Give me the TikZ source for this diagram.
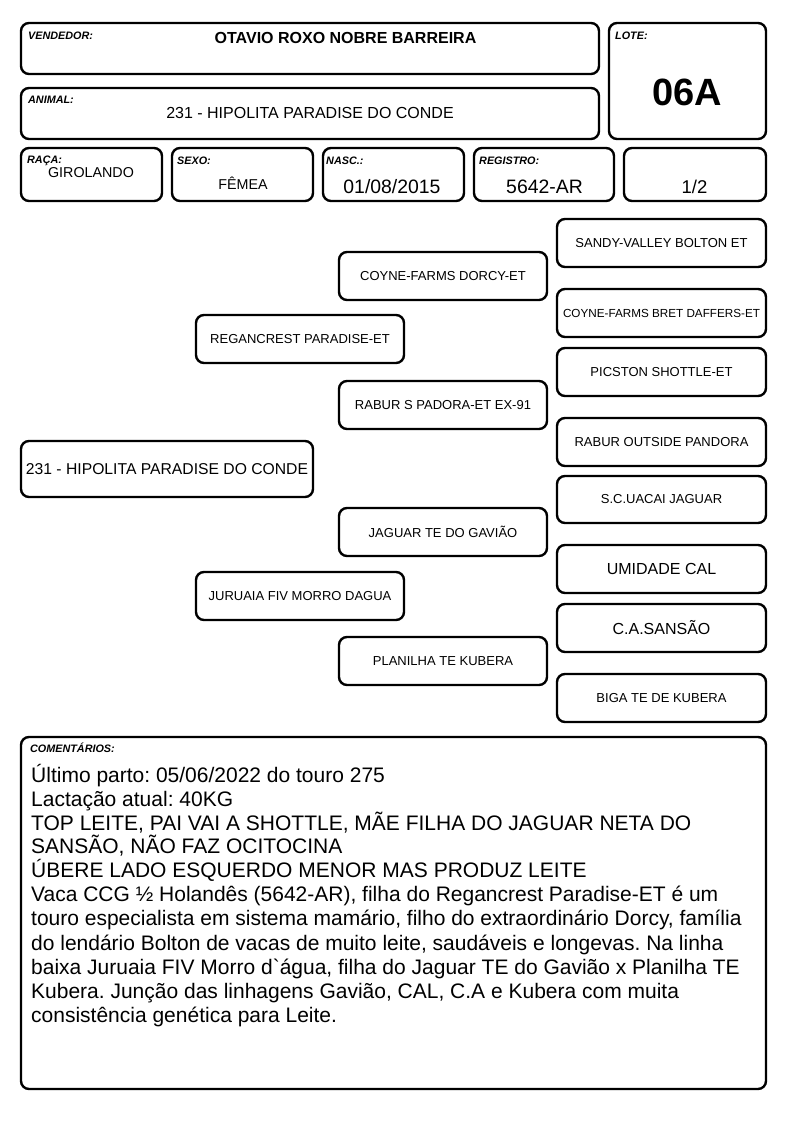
\documentclass[tikz,border=0pt]{standalone}
\usepackage{fontspec}
\setmainfont{Liberation Sans}
\newfontfamily\gravefont{Liberation Sans}
\frenchspacing
\begin{document}
\begin{tikzpicture}[x=1pt,y=-1pt,
  box/.style={draw, line width=2.4pt, rounded corners=8pt, inner sep=0pt, align=center},
  ped/.style={box, minimum width=208pt, minimum height=48pt, font=\fontsize{13}{15}\selectfont},
  lbl/.style={anchor=base west, inner sep=0pt, font=\fontsize{10.8}{12}\selectfont\bfseries\itshape},
  val/.style={anchor=base, inner sep=0pt},
  cline/.style={anchor=base west, inner sep=0pt, font=\fontsize{21}{24}\selectfont}]
\useasboundingbox (0,0) rectangle (794,1123);
% header boxes
\node[box, minimum width=578pt, minimum height=51pt] (vend) at (310,48.5) {};
\node[box, minimum width=157pt, minimum height=116pt] (lote) at (687.5,81) {};
\node[box, minimum width=578pt, minimum height=51pt] (anim) at (310,113.5) {};
\node[box, minimum width=141pt, minimum height=53pt] (raca) at (91.5,174.5) {};
\node[box, minimum width=141pt, minimum height=53pt] (sexo) at (242.5,174.5) {};
\node[box, minimum width=141pt, minimum height=53pt] (nasc) at (393.5,174.5) {};
\node[box, minimum width=140pt, minimum height=53pt] (regi) at (544,174.5) {};
\node[box, minimum width=142pt, minimum height=53pt] (pagi) at (695,174.5) {};
% labels
\node[lbl] (lvend) at (28,39.5) {VENDEDOR:};
\node[val, font=\fontsize{16}{18}\selectfont\bfseries] (tvend) at (345.5,44) {OTAVIO ROXO NOBRE BARREIRA};
\node[lbl] (llote) at (615,39.5) {LOTE:};
\node[val, font=\fontsize{38}{40}\selectfont\bfseries] (tlote) at (687,106) {06A};
\node[lbl] (lanim) at (28,103.5) {ANIMAL:};
\node[val, font=\fontsize{16}{18}\selectfont] (tanim) at (310,119) {231 - HIPOLITA PARADISE DO CONDE};
\node[lbl] (lraca) at (27,163.5) {RAÇA:};
\node[val, font=\fontsize{14.3}{16}\selectfont] (traca) at (91,178) {GIROLANDO};
\node[lbl] (lsexo) at (177,164.5) {SEXO:};
\node[val, font=\fontsize{14.3}{16}\selectfont] (tsexo) at (243,190) {FÊMEA};
\node[lbl] (lnasc) at (326,164.5) {NASC.:};
\node[val, font=\fontsize{19.4}{21}\selectfont] (tnasc) at (392,194) {01/08/2015};
\node[lbl] (lregi) at (479,164.5) {REGISTRO:};
\node[val, font=\fontsize{19.4}{21}\selectfont] (tregi) at (544.5,194) {5642-AR};
\node[val, font=\fontsize{18.5}{21}\selectfont] (tpagi) at (694.5,194) {1/2};
% pedigree
\node[box, minimum width=292pt, minimum height=56pt, font=\fontsize{15.7}{18}\selectfont] (p0) at (167,469) {231 - HIPOLITA PARADISE DO CONDE};
\node[ped] (p1) at (300,339) {REGANCREST PARADISE-ET};
\node[ped] (p2) at (300,596) {JURUAIA FIV MORRO DAGUA};
\node[ped] (p11) at (443,276) {COYNE-FARMS DORCY-ET};
\node[ped] (p12) at (443,405) {RABUR S PADORA-ET EX-91};
\node[ped] (p21) at (443,532) {JAGUAR TE DO GAVIÃO};
\node[ped] (p22) at (443,661) {PLANILHA TE KUBERA};
\node[ped, minimum width=209pt] (p111) at (661.5,243) {SANDY-VALLEY BOLTON ET};
\node[ped, minimum width=209pt, font=\fontsize{11.7}{14}\selectfont] (p112) at (661.5,313) {COYNE-FARMS BRET DAFFERS-ET};
\node[ped, minimum width=209pt] (p121) at (661.5,372) {PICSTON SHOTTLE-ET};
\node[ped, minimum width=209pt] (p122) at (661.5,442) {RABUR OUTSIDE PANDORA};
\node[ped, minimum width=209pt, minimum height=47pt] (p211) at (661.5,499.5) {S.C.UACAI JAGUAR};
\node[ped, minimum width=209pt, font=\fontsize{16}{18}\selectfont] (p212) at (661.5,569) {UMIDADE CAL};
\node[ped, minimum width=209pt, font=\fontsize{16}{18}\selectfont] (p221) at (661.5,628) {C.A.SANSÃO};
\node[ped, minimum width=209pt] (p222) at (661.5,698) {BIGA TE DE KUBERA};
% comments
\node[box, minimum width=745pt, minimum height=352pt] (coment) at (393.5,913) {};
\node[lbl] (lcoment) at (30,752) {COMENTÁRIOS:};
\node[cline] (c1) at (31,782) {Último parto: 05/06/2022 do touro 275};
\node[cline] (c2) at (31,806) {Lactação atual: 40KG};
\node[cline] (c3) at (31,830) {TOP LEITE, PAI VAI A SHOTTLE, MÃE FILHA DO JAGUAR NETA DO};
\node[cline] (c4) at (31,853) {SANSÃO, NÃO FAZ OCITOCINA};
\node[cline] (c5) at (31,877) {ÚBERE LADO ESQUERDO MENOR MAS PRODUZ LEITE};
\node[cline] (c6) at (31,901) {Vaca CCG ½ Holandês (5642-AR), filha do Regancrest Paradise-ET é um};
\node[cline] (c7) at (31,925) {touro especialista em sistema mamário, filho do extraordinário Dorcy, família};
\node[cline] (c8) at (31,950) {do lendário Bolton de vacas de muito leite, saudáveis e longevas. Na linha};
\node[cline] (c9) at (31,974) {baixa Juruaia FIV Morro d{\gravefont`}água, filha do Jaguar TE do Gavião x Planilha TE};
\node[cline] (c10) at (31,998) {Kubera. Junção das linhagens Gavião, CAL, C.A e Kubera com muita};
\node[cline] (c11) at (31,1022) {consistência genética para Leite.};
\end{tikzpicture}
\end{document}
